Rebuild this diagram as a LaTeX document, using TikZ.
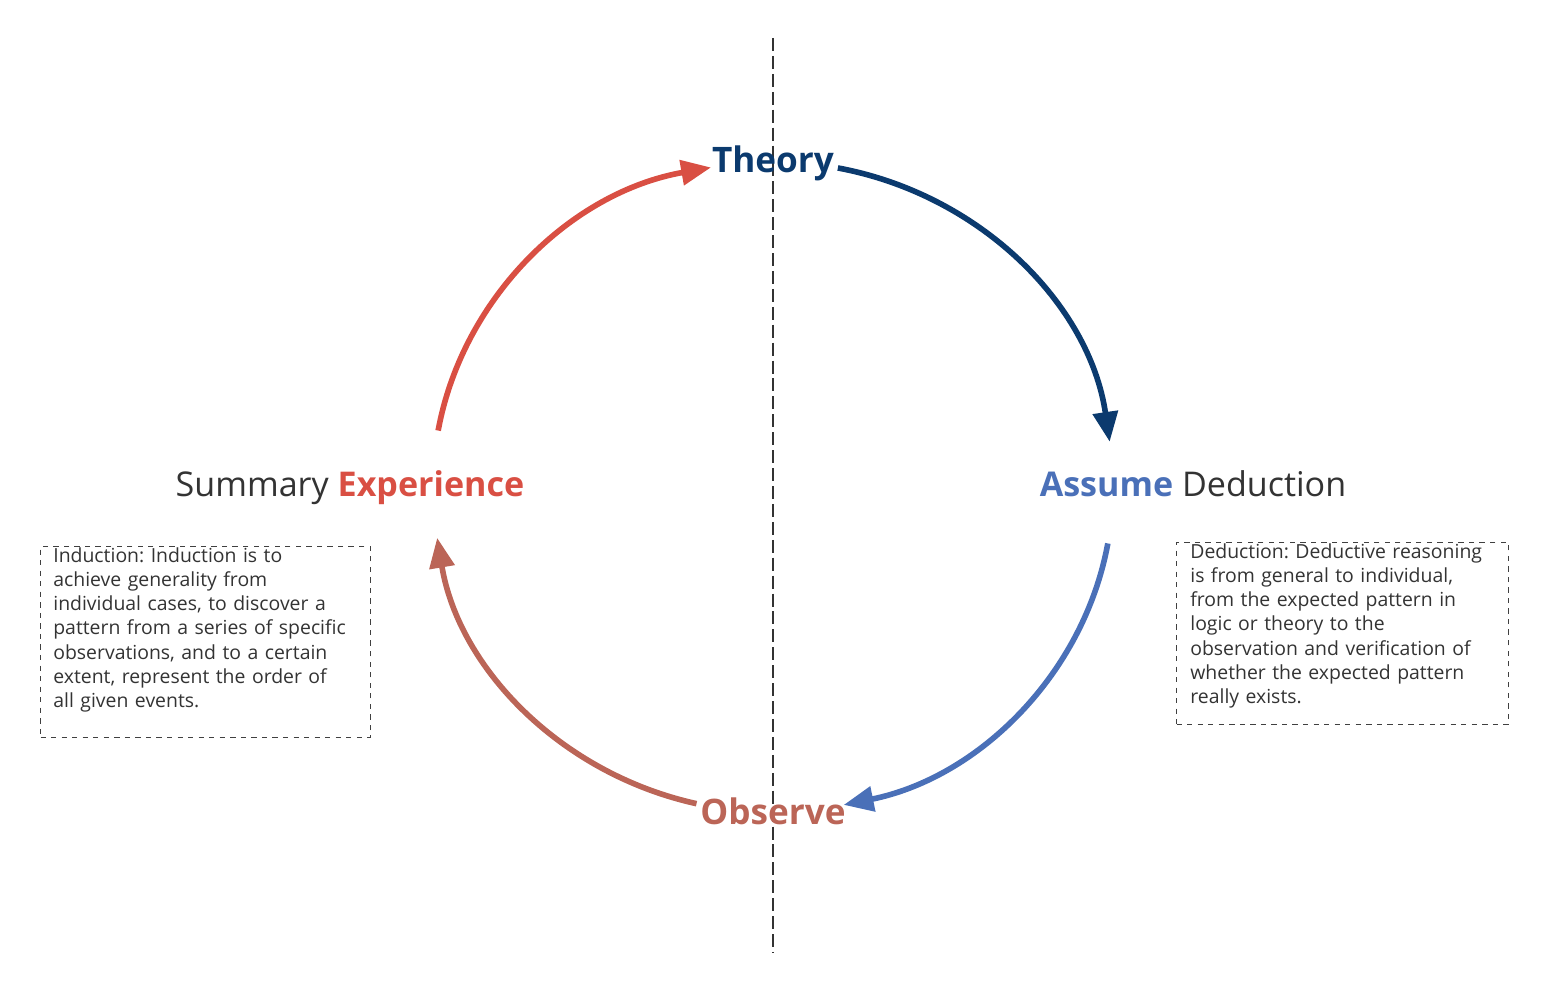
\documentclass[tikz,border=0pt]{standalone}
\usepackage{fontspec}
\setmainfont{Open Sans}
\usetikzlibrary{arrows.meta}
\definecolor{theoryblue}{HTML}{0B3A6E}
\definecolor{assumeblue}{HTML}{4A70B8}
\definecolor{expred}{HTML}{D94F43}
\definecolor{observebrown}{HTML}{BB6557}
\definecolor{darktext}{HTML}{333333}
\frenchspacing
\begin{document}
\begin{tikzpicture}[x=0.02cm,y=0.02cm,
  title/.style={font=\fontsize{19.4}{22}\selectfont,inner sep=0pt,anchor=base},
  boldtitle/.style={font=\fontsize{20}{24}\selectfont\bfseries,inner sep=0pt,anchor=base},
  flow/.style={line width=3.2pt,-{Triangle[length=17pt,width=14pt]}},
  notebox/.style={draw=black!75,dashed,line width=0.6pt,inner sep=0pt,anchor=north west},
  notetext/.style={font=\fontsize{11.05}{13.8}\selectfont,text=darktext,align=left,inner sep=0pt,anchor=north west}]
\useasboundingbox (-773,-503) rectangle (770,487);
% divider
\coordinate (divtop) at (0,449);
\coordinate (divbot) at (0,-465);
\draw[darktext,line width=1.7pt,dash pattern=on 7.4pt off 2.8pt] (divtop) -- (divbot);
% titles
\node[boldtitle,text=theoryblue] (theory) at (0,314) {Theory};
\node[boldtitle,text=observebrown] (observe) at (0,-338) {Observe};
\node[title] (induct) at (-423,-10) {\textcolor{darktext}{Summary} \textcolor{expred}{\bfseries Experience}};
\node[title] (deduct) at (420,-10) {\textcolor{assumeblue}{\bfseries Assume} \textcolor{darktext}{Deduction}};
% arcs
\coordinate (expstart) at (170:340 and 325);
\coordinate (theostart) at (79:340 and 325);
\coordinate (assstart) at (-10:340 and 325);
\coordinate (obsstart) at (257:340 and 325);
\draw[flow,expred] (expstart) arc[start angle=170,end angle=100.5,x radius=340,y radius=325];
\draw[flow,theoryblue] (theostart) arc[start angle=79,end angle=8,x radius=340,y radius=325];
\draw[flow,assumeblue] (assstart) arc[start angle=-10,end angle=-78,x radius=340,y radius=325];
\draw[flow,observebrown] (obsstart) arc[start angle=257,end angle=189,x radius=340,y radius=325];
% notes
\node[notebox,minimum width=6.6cm,minimum height=3.82cm] (leftbox) at (-733,-59) {};
\node[notetext,text width=6.4cm] (lefttext) at (-720,-60) {Induction: Induction is to\\achieve generality from\\individual cases, to discover a\\pattern from a series of specific\\observations, and to a certain\\extent, represent the order of\\all given events.};
\node[notebox,minimum width=6.64cm,minimum height=3.64cm] (rightbox) at (403,-55) {};
\node[notetext,text width=6.4cm] (righttext) at (417,-56) {Deduction: Deductive reasoning\\is from general to individual,\\from the expected pattern in\\logic or theory to the\\observation and verification of\\whether the expected pattern\\really exists.};
\end{tikzpicture}
\end{document}
